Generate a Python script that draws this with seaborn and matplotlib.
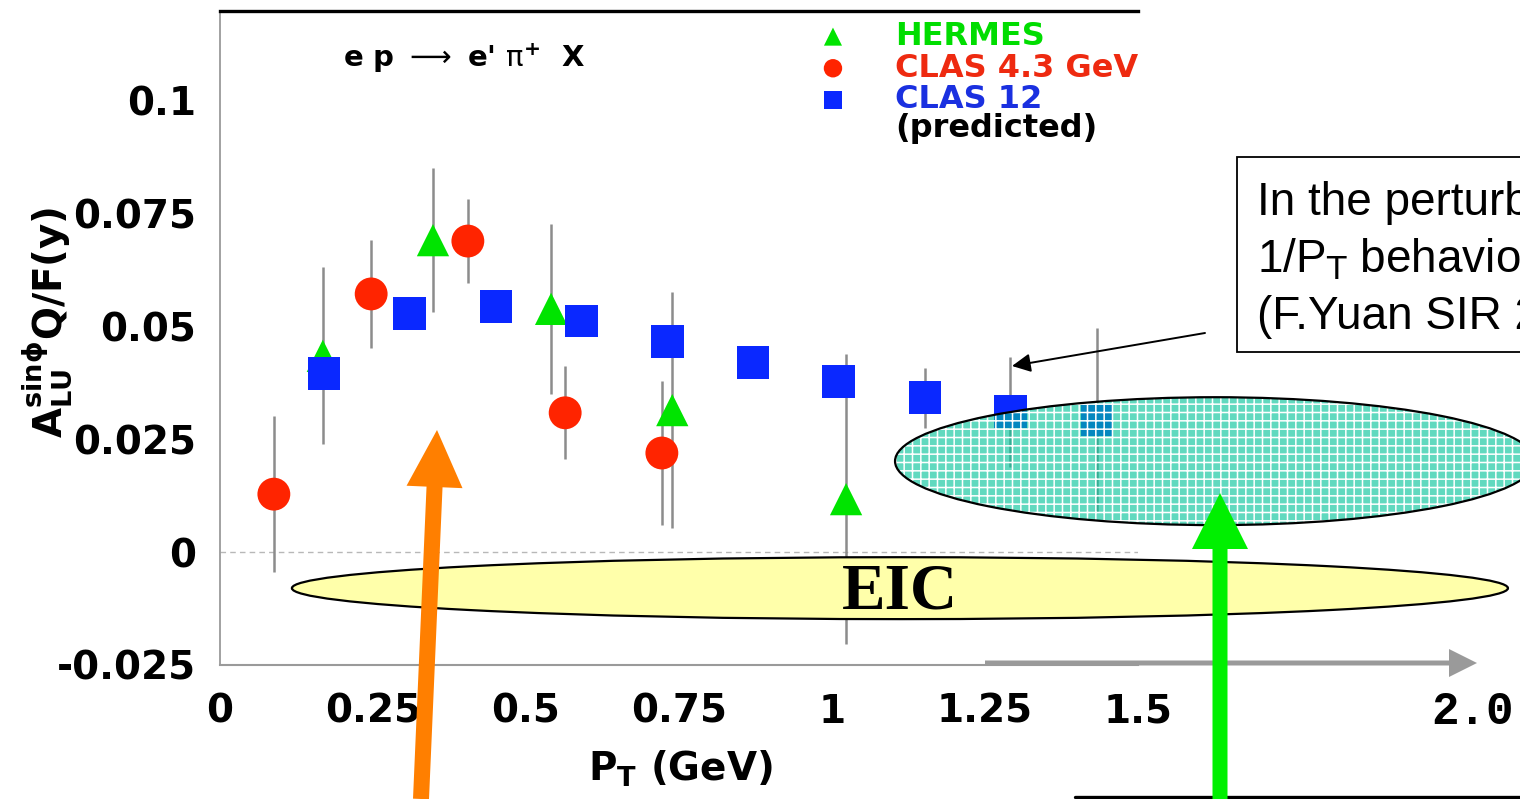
import numpy as np
import pandas as pd
import matplotlib
matplotlib.use("Agg")
import matplotlib.pyplot as plt
import seaborn as sns
from matplotlib.patches import Ellipse, FancyArrow, FancyArrowPatch, Rectangle
from matplotlib.lines import Line2D
from matplotlib.transforms import IdentityTransform

# ---------------- data ----------------
hermes_pt = [0.168, 0.348, 0.541, 0.739, 1.023]
hermes_a = [0.0434, 0.0690, 0.0538, 0.0314, 0.0117]
hermes_err = [0.0196, 0.0160, 0.0188, 0.0261, 0.0320]

clas43_pt = [0.088, 0.247, 0.405, 0.564, 0.722]
clas43_a = [0.0128, 0.0571, 0.0688, 0.0308, 0.0219]
clas43_err = [0.0172, 0.0120, 0.0093, 0.0103, 0.0160]

clas12_pt = [0.170, 0.310, 0.451, 0.591, 0.731, 0.871, 1.011, 1.152, 1.291, 1.433]
clas12_a = [0.0394, 0.0527, 0.0544, 0.0511, 0.0465, 0.0420, 0.0378, 0.0341, 0.0310, 0.0292]
clas12_err = [0.002, 0.002, 0.002, 0.002, 0.002, 0.002, 0.002, 0.0067, 0.0122, 0.0204]

x_ticks = [0, 0.25, 0.5, 0.75, 1, 1.25, 1.5]
x_tick_labels = ["0", "0.25", "0.5", "0.75", "1", "1.25", "1.5"]
y_ticks = [-0.025, 0, 0.025, 0.05, 0.075, 0.1]
y_tick_labels = ["-0.025", "0", "0.025", "0.05", "0.075", "0.1"]

series_names = ["HERMES", "CLAS 4.3 GeV", "CLAS 12"]
series_colors = ["#00e400", "#ff2400", "#0a28ff"]
legend_text_colors = ["#00dd00", "#ee2a10", "#1a30e0"]

# ---------------- style ----------------
sns.set_style("white")
plt.rcParams["font.family"] = ["DejaVu Sans"]
plt.rcParams["mathtext.default"] = "bf"
plt.rcParams["hatch.linewidth"] = 1.1
plt.rcParams["text.color"] = "black"
plt.rcParams["axes.labelcolor"] = "black"

W, H = 1520, 799
fig = plt.figure(figsize=(W / 100, H / 100), dpi=100)
fig.patch.set_facecolor("white")
ax = fig.add_axes([220 / W, 1 - 665 / H, (1138 - 220) / W, (665 - 11) / H])
ax.set_facecolor("white")
ax.set_xlim(0, 1.5)
ax.set_ylim(-0.025, 0.1197)

# zero line
ax.axhline(0, color="#b8b8b8", lw=1.0, ls=(0, (4, 3)), zorder=1)

# error bars
ebar = dict(fmt="none", ecolor="#8c8c8c", elinewidth=1.8, capsize=0, zorder=2)
ax.errorbar(hermes_pt, hermes_a, yerr=hermes_err, **ebar)
ax.errorbar(clas43_pt, clas43_a, yerr=clas43_err, **ebar)
ax.errorbar(clas12_pt, clas12_a, yerr=clas12_err, **ebar)

df_h = pd.DataFrame({"pt": hermes_pt, "a": hermes_a})
df_c = pd.DataFrame({"pt": clas43_pt, "a": clas43_a})
df_12 = pd.DataFrame({"pt": clas12_pt, "a": clas12_a})

sns.scatterplot(data=df_h, x="pt", y="a", marker="^", s=540, color=series_colors[0],
                edgecolor="none", linewidth=0, label=series_names[0], ax=ax, zorder=3)
sns.scatterplot(data=df_c, x="pt", y="a", marker="o", s=560, color=series_colors[1],
                edgecolor="none", linewidth=0, label=series_names[1], ax=ax, zorder=3)
sns.scatterplot(data=df_12, x="pt", y="a", marker="s", s=560, color=series_colors[2],
                edgecolor="none", linewidth=0, label=series_names[2], ax=ax, zorder=4)

# axes styling
ax.set_xticks(x_ticks)
ax.set_xticklabels(x_tick_labels)
ax.set_yticks(y_ticks)
ax.set_yticklabels(y_tick_labels)
ax.tick_params(axis="both", direction="in", length=14, width=1.0, color="#a8a8a8",
               labelcolor="black", labelsize=28)
ax.tick_params(axis="x", pad=20)
ax.tick_params(axis="y", pad=17)
for lab in ax.get_xticklabels() + ax.get_yticklabels():
    lab.set_fontweight("bold")
ax.xaxis.get_major_ticks()[-1].tick1line.set_color("#333333")
ax.xaxis.get_major_ticks()[-1].tick1line.set_markeredgewidth(1.6)

ax.spines["right"].set_visible(False)
ax.spines["top"].set_color("black")
ax.spines["top"].set_linewidth(2.4)
ax.spines["left"].set_color("#9a9a9a")
ax.spines["left"].set_linewidth(1.3)
ax.spines["bottom"].set_color("#9a9a9a")
ax.spines["bottom"].set_linewidth(1.5)

ax.set_xlabel("P$_{T}$ (GeV)", fontsize=28, fontweight="bold", color="black")
ax.xaxis.set_label_coords(0.501, -0.128)
ax.set_ylabel("")
fig.text(47, H - 322, "A$_{LU}^{sin\\phi}$Q/F(y)", rotation=90, ha="center", va="center",
         fontsize=28, fontweight="bold", transform=IdentityTransform())

# legend
leg = ax.legend(loc="upper left", bbox_to_anchor=(817 / W, 1 - 21 / H),
                bbox_transform=fig.transFigure, frameon=False, markerscale=0.56,
                handlelength=1.0, handletextpad=1.45, labelspacing=0.02,
                borderpad=0, borderaxespad=0,
                prop={"size": 23, "weight": "bold"})
for txt, c in zip(leg.get_texts(), legend_text_colors):
    txt.set_color(c)
fig.text(895, H - 129, "(predicted)", fontsize=23, fontweight="bold", va="center",
         ha="left", transform=IdentityTransform())

# reaction label
fig.text(343, H - 58, "e p $\\mathrm{\\longrightarrow}$ e' $\\mathrm{\\pi}^{+}$  X",
         fontsize=21, fontweight="bold", va="center", ha="left",
         transform=IdentityTransform())

# EIC ellipse
eic = Ellipse((1.111, -0.0080), 1.987, 0.0137, transform=ax.transData, fc="#ffffaa",
              ec="black", lw=1.6, clip_on=False, zorder=6)
ax.add_patch(eic)
ax.text(1.111, -0.0089, "EIC", family="Liberation Serif", fontweight="bold", fontsize=47,
        color="black", ha="center", va="center", zorder=7, clip_on=False)

# hatched teal ellipse
teal_fill = Ellipse((1.626, 0.0201), 1.046, 0.0283, transform=ax.transData,
                    fc=(0.0, 0.76, 0.60, 0.62), ec="white", lw=0, hatch="++",
                    clip_on=False, zorder=6)
ax.add_patch(teal_fill)
teal_edge = Ellipse((1.626, 0.0201), 1.046, 0.0283, transform=ax.transData,
                    fc="none", ec="black", lw=1.6, clip_on=False, zorder=6)
ax.add_patch(teal_edge)

# grey axis-extension arrow
fig.add_artist(FancyArrow(985, H - 663, 492, 0, width=5, head_width=28, head_length=28,
                          length_includes_head=True, color="#9a9a9a", lw=0,
                          transform=IdentityTransform(), zorder=8))
fig.text(1472, H - 712, "2.0", family="Liberation Mono", fontweight="bold", fontsize=33,
         ha="center", va="center", transform=IdentityTransform())

# orange and green arrows
fig.add_artist(FancyArrow(421, 0, 16, H - 430, width=16, head_width=56, head_length=57,
                          length_includes_head=True, color="#ff7f00", lw=0,
                          transform=IdentityTransform(), zorder=10))
fig.add_artist(FancyArrow(1220, 0, 0, H - 493, width=15, head_width=56, head_length=56,
                          length_includes_head=True, color="#00f000", lw=0,
                          transform=IdentityTransform(), zorder=10))

# black bottom line
fig.add_artist(Line2D([1075, 1520], [H - 797, H - 797], color="black", lw=2.4,
                      transform=IdentityTransform(), zorder=9))

# annotation box (partly outside the picture, as in the reference)
fig.add_artist(Rectangle((1237, H - 352), 400, 195, fc="white", ec="black", lw=1.3,
                         transform=IdentityTransform(), zorder=9))
box_lines = ["In the perturbative region", "1/P$_{\\mathrm{T}}$ behavior expected",
             "(F.Yuan SIR 2007)"]
for i, s in enumerate(box_lines):
    fig.text(1257, H - (215 + 57 * i), s, family="Liberation Sans", fontsize=33,
             ha="left", va="baseline", transform=IdentityTransform(), zorder=10,
             math_fontfamily="dejavusans")
fig.add_artist(FancyArrowPatch((1205, H - 333), (1012, H - 366), arrowstyle="-|>",
                               mutation_scale=28, lw=1.4, color="black",
                               shrinkA=0, shrinkB=0, transform=IdentityTransform(),
                               zorder=10))

fig.savefig("out.png", dpi=100, facecolor="white")
